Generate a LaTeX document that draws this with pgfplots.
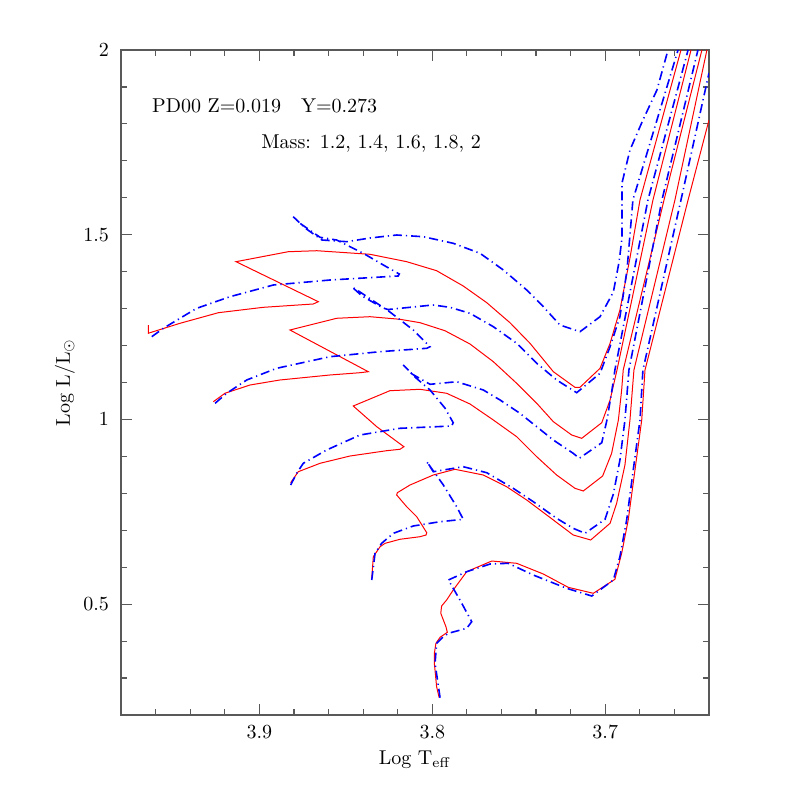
\documentclass[border=0pt]{standalone}
\usepackage{pgfplots}
\pgfplotsset{compat=1.18}

\pgfplotsset{
  rtrk/.style={red, line width=0.5pt},
  btrk/.style={blue, line width=0.8pt, dash pattern=on 4.5pt off 2pt on 0.6pt off 2pt},
}

\begin{document}
\begin{tikzpicture}
\begin{axis}[
  name=ax,
  scale only axis,
  width=294pt, height=332.5pt,
  x dir=reverse,
  xmin=3.64, xmax=3.98,
  ymin=0.2, ymax=2,
  xtick={3.7,3.8,3.9},
  ytick={0.5,1,1.5,2},
  minor xtick={3.66,3.68,3.72,3.74,3.76,3.78,3.82,3.84,3.86,3.88,3.92,3.94,3.96},
  minor ytick={0.3,0.4,0.6,0.7,0.8,0.9,1.1,1.2,1.3,1.4,1.6,1.7,1.8,1.9},
  tick align=inside,
  tick pos=both,
  major tick length=5.5pt,
  minor tick length=3pt,
  axis line style={black!65, line width=0.6pt},
  tick style={black!65, line width=0.6pt},
  xticklabel style={yshift=-2pt},
  yticklabel style={xshift=-2.5pt},
  xlabel={Log T$_{\mathrm{eff}}$},
  ylabel={Log L/L$_{\odot}$},
  every axis x label/.style={at={(axis description cs:0.5,0)}, anchor=center, yshift=-22.5pt},
  every axis y label/.style={at={(axis description cs:0,0.5)}, xshift=-28pt, rotate=90, anchor=center},
]

% red tracks (solid)
\addplot[rtrk] coordinates {(3.9642,1.2556) (3.9642,1.2332) (3.9632,1.2348) (3.9459,1.2602) (3.9237,1.2889) (3.8977,1.3035) (3.8688,1.3125) (3.8659,1.3187) (3.9135,1.4270) (3.8833,1.4540) (3.8668,1.4567) (3.8360,1.4470) (3.8148,1.4270) (3.7975,1.4026) (3.7821,1.3612) (3.7685,1.3160) (3.7551,1.2619) (3.7435,1.2061) (3.7300,1.1292) (3.7175,1.0870) (3.7146,1.0870) (3.7030,1.1384) (3.6972,1.2061) (3.6915,1.2962) (3.6857,1.4370) (3.6799,1.5940) (3.6562,2.0)};
\addplot[rtrk] coordinates {(3.9266,1.0480) (3.9199,1.0708) (3.9054,1.0932) (3.8881,1.1068) (3.8592,1.1203) (3.8418,1.1265) (3.8370,1.1292) (3.8823,1.2421) (3.8553,1.2738) (3.8360,1.2781) (3.8187,1.2711) (3.8071,1.2619) (3.7927,1.2402) (3.7782,1.2042) (3.7647,1.1563) (3.7512,1.0978) (3.7396,1.0437) (3.7300,0.9939) (3.7194,0.9579) (3.7136,0.9489) (3.7020,0.9912) (3.6972,1.0526) (3.6932,1.1338) (3.6724,1.5940) (3.6504,2.0)};
\addplot[rtrk] coordinates {(3.8819,0.8288) (3.8775,0.8585) (3.8649,0.8813) (3.8476,0.9010) (3.8264,0.9154) (3.8187,0.9192) (3.8164,0.9262) (3.8321,0.9803) (3.8457,1.0364) (3.8245,1.0778) (3.8071,1.0816) (3.7917,1.0708) (3.7782,1.0418) (3.7647,0.9985) (3.7512,0.9533) (3.7396,0.8991) (3.7281,0.8496) (3.7175,0.8136) (3.7127,0.8063) (3.7015,0.8469) (3.6963,0.9083) (3.6924,0.9985) (3.6905,1.0797) (3.6896,1.1338) (3.6660,1.5940) (3.6441,2.0)};
\addplot[rtrk] coordinates {(3.8350,0.5700) (3.8341,0.6285) (3.8302,0.6555) (3.8273,0.6647) (3.8187,0.6756) (3.8071,0.6826) (3.8036,0.6872) (3.8032,0.6934) (3.8090,0.7367) (3.8148,0.7638) (3.8206,0.7955) (3.8202,0.8017) (3.8129,0.8225) (3.7994,0.8496) (3.7869,0.8650) (3.7705,0.8496) (3.7570,0.8179) (3.7454,0.7819) (3.7300,0.7278) (3.7185,0.6872) (3.7084,0.6737) (3.6972,0.7189) (3.6934,0.7730) (3.6886,0.8767) (3.6857,0.9985) (3.6834,1.1338) (3.6597,1.5940) (3.6412,2.0)};
\addplot[rtrk] coordinates {(3.7960,0.2468) (3.7975,0.2766) (3.7988,0.3399) (3.7988,0.3670) (3.7979,0.3941) (3.7955,0.4103) (3.7913,0.4238) (3.7921,0.4390) (3.7951,0.4753) (3.7946,0.4950) (3.7917,0.5113) (3.7879,0.5383) (3.7801,0.5879) (3.7724,0.6033) (3.7656,0.6168) (3.7512,0.6106) (3.7358,0.5816) (3.7214,0.5456) (3.7069,0.5294) (3.6944,0.5673) (3.6905,0.6377) (3.6867,0.7278) (3.6828,0.8631) (3.6789,0.9985) (3.6770,1.1338) (3.6521,1.5940) (3.6400,1.8105)};

% blue tracks (dash-dot)
\addplot[btrk] coordinates {(3.9622,1.2240) (3.9555,1.2467) (3.9459,1.2738) (3.9362,1.3008) (3.9170,1.3322) (3.8919,1.3639) (3.8592,1.3774) (3.8197,1.3883) (3.8191,1.3937) (3.8283,1.4180) (3.8399,1.4497) (3.8553,1.4857) (3.8649,1.4930) (3.8765,1.5309) (3.8804,1.5488) (3.8736,1.5182) (3.8638,1.4857) (3.8495,1.4811) (3.8360,1.4911) (3.8206,1.4992) (3.8052,1.4946) (3.7879,1.4768) (3.7724,1.4497) (3.7589,1.4045) (3.7454,1.3504) (3.7358,1.3052) (3.7262,1.2556) (3.7146,1.2375) (3.7030,1.2781) (3.6953,1.3450) (3.6920,1.4262) (3.6903,1.4911) (3.6903,1.6400) (3.6857,1.7293) (3.6782,1.8105) (3.6701,1.8917) (3.6637,2.0)};
\addplot[btrk] coordinates {(3.9256,1.0437) (3.9189,1.0708) (3.9073,1.1068) (3.8900,1.1384) (3.8592,1.1698) (3.8302,1.1834) (3.8032,1.1926) (3.8013,1.1969) (3.8110,1.2421) (3.8245,1.2908) (3.8418,1.3450) (3.8464,1.3585) (3.8406,1.3341) (3.8285,1.3016) (3.8256,1.2976) (3.8112,1.3043) (3.7996,1.3098) (3.7898,1.3035) (3.7782,1.2873) (3.7647,1.2510) (3.7512,1.2061) (3.7396,1.1520) (3.7281,1.1068) (3.7165,1.0724) (3.7030,1.1249) (3.6972,1.1969) (3.6915,1.2781) (3.6874,1.4045) (3.6840,1.5940) (3.6579,2.0)};
\addplot[btrk] coordinates {(3.8819,0.8225) (3.8784,0.8542) (3.8746,0.8813) (3.8611,0.9173) (3.8418,0.9579) (3.8187,0.9760) (3.7888,0.9822) (3.7879,0.9912) (3.7927,1.0310) (3.8013,1.0797) (3.8094,1.1122) (3.8168,1.1474) (3.8117,1.1230) (3.8013,1.0951) (3.7859,1.1021) (3.7705,1.0797) (3.7608,1.0526) (3.7493,1.0166) (3.7396,0.9803) (3.7300,0.9443) (3.7185,0.9083) (3.7150,0.8948) (3.7020,0.9370) (3.6990,0.9985) (3.6961,1.0797) (3.6944,1.1338) (3.6753,1.5940) (3.6521,2.0)};
\addplot[btrk] coordinates {(3.8350,0.5654) (3.8331,0.6377) (3.8293,0.6647) (3.8225,0.6918) (3.8110,0.7116) (3.7955,0.7232) (3.7821,0.7297) (3.7859,0.7638) (3.7936,0.8225) (3.8032,0.8856) (3.7994,0.8585) (3.7821,0.8721) (3.7685,0.8558) (3.7532,0.8136) (3.7416,0.7773) (3.7281,0.7324) (3.7185,0.7053) (3.7117,0.6918) (3.7001,0.7297) (3.6953,0.7982) (3.6915,0.8902) (3.6886,0.9985) (3.6863,1.1338) (3.6672,1.5940) (3.6464,2.0)};
\addplot[btrk] coordinates {(3.7955,0.2468) (3.7984,0.3399) (3.7975,0.3941) (3.7936,0.4119) (3.7907,0.4211) (3.7801,0.4347) (3.7772,0.4525) (3.7840,0.5113) (3.7907,0.5654) (3.7801,0.5879) (3.7666,0.6087) (3.7561,0.6106) (3.7416,0.5789) (3.7223,0.5429) (3.7078,0.5221) (3.6953,0.5654) (3.6915,0.6285) (3.6876,0.7278) (3.6838,0.8631) (3.6799,0.9985) (3.6782,1.1338) (3.6562,1.5940) (3.6400,1.9377)};

\node[anchor=base west, inner sep=0pt] at (axis cs:3.9622,1.8303) {PD00\ Z=0.019\quad Y=0.273};
\node[anchor=base west, inner sep=0pt] at (axis cs:3.8991,1.7339) {Mass: 1.2, 1.4, 1.6, 1.8, 2};
\end{axis}
\path (ax.south west) +(-60.5pt,-41pt) rectangle +(338pt,357.5pt);
\end{tikzpicture}
\end{document}
